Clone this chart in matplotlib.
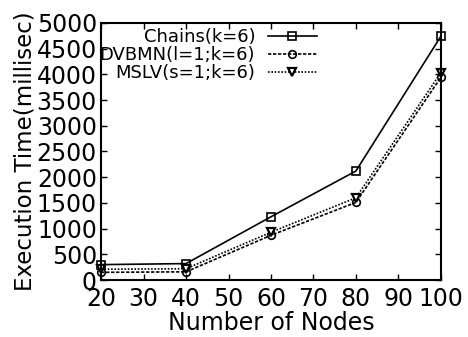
import matplotlib
matplotlib.use("Agg")
import matplotlib.pyplot as plt

plt.rcParams['font.family'] = ['DejaVu Sans']

nodes = [20, 40, 60, 80, 100]
chains = [300, 320, 1230, 2120, 4740]
dvbmn = [150, 160, 870, 1510, 3940]
mslv = [210, 220, 930, 1600, 4030]

labels = ['Chains(k=6)', 'DVBMN(l=1;k=6)', 'MSLV(s=1;k=6)']

fig = plt.figure(figsize=(4.68, 3.37), dpi=100)
ax = fig.add_axes([0.216, 0.169, 0.726, 0.763])

ax.plot(nodes, chains, color='black', lw=1.2, ls='-', marker='s', ms=5.5,
        mfc='none', mec='black', mew=1.2, label=labels[0], clip_on=False)
ax.plot(nodes, dvbmn, color='black', lw=1.2, ls=(0, (2, 1)), marker='o', ms=5.5,
        mfc='none', mec='black', mew=1.2, label=labels[1], clip_on=False)
ax.plot(nodes, mslv, color='black', lw=1.2, ls=(0, (1, 1)), marker='v', ms=6,
        mfc='white', mec='black', mew=1.6, label=labels[2], clip_on=False)

ax.set_xlim(20, 100)
ax.set_ylim(0, 5000)
ax.set_xticks(range(20, 101, 10))
ax.set_yticks(range(0, 5001, 500))
ax.tick_params(direction='in', top=True, right=True, labelsize=17, length=4,
               width=1, pad=3)
ax.tick_params(axis='x', pad=5)
for s in ax.spines.values():
    s.set_linewidth(1.5)

ax.set_xlabel('Number of Nodes', fontsize=17, labelpad=0)
ax.set_ylabel('Execution Time(millisec)', fontsize=16.5, labelpad=0)

leg = ax.legend(loc='upper right', bbox_to_anchor=(0.65, 1.0), frameon=False,
                fontsize=13, markerfirst=False, handlelength=2.7,
                handletextpad=0.7, labelspacing=0.0, borderaxespad=0.0,
                borderpad=0.3)
for t in leg.get_texts():
    t.set_ha('right')
leg._legend_box.align = 'right'

fig.savefig('out.png', dpi=100)
